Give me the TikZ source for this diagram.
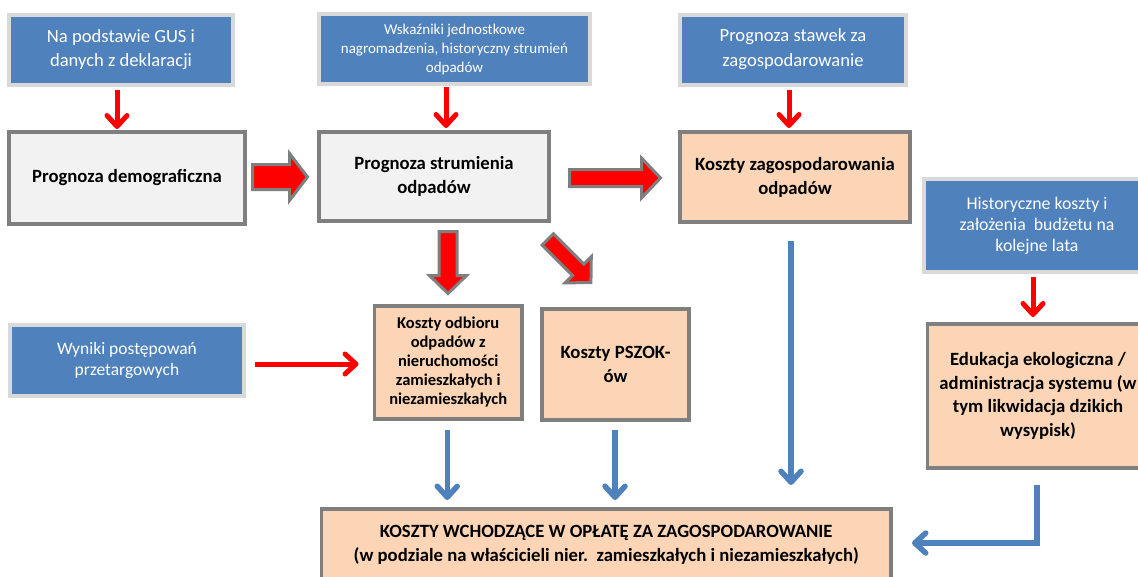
\documentclass[tikz,border=0pt]{standalone}
\usepackage{fontspec}
\setmainfont{Carlito}
\usetikzlibrary{arrows.meta,calc}
\definecolor{srcblue}{HTML}{4F81BD}
\definecolor{srcedge}{HTML}{D9D9D9}
\definecolor{boxedge}{HTML}{7F7F7F}
\definecolor{grayfill}{HTML}{F2F2F2}
\definecolor{orfill}{HTML}{FBD5B5}
\definecolor{arrred}{HTML}{FF0000}
\tikzset{
 srcbox/.style={fill=srcblue, draw=srcedge, line width=4pt, text=white, align=center, inner sep=0pt, outer sep=0pt},
 procbox/.style={fill=grayfill, draw=boxedge, line width=3.5pt, align=center, inner sep=0pt, outer sep=0pt, font=\bfseries\fontsize{18.7}{24}\selectfont},
 costbox/.style={procbox, fill=orfill},
 redarr/.style={draw=arrred, line width=5pt, -{Straight Barb[length=11pt,width=20pt,round]}},
 bluearr/.style={draw=srcblue, line width=5.5pt, -{Straight Barb[length=11pt,width=20pt,round]}},
 blockstyle/.style={fill=arrred, draw=boxedge, line width=3pt, line join=miter},
}
% #1 start, #2 angle, #3 length, #4 shaft half width, #5 head half width, #6 head length
\newcommand{\blockarr}[6]{%
 \begin{scope}[shift={#1},rotate=#2]
  \draw[blockstyle] (0,-#4) -- ({#3-#6},-#4) -- ({#3-#6},-#5) -- (#3,0) -- ({#3-#6},#5) -- ({#3-#6},#4) -- (0,#4) -- cycle;
 \end{scope}}
\begin{document}
\begin{tikzpicture}[x=1pt,y=-1pt]
\useasboundingbox (0,0) rectangle (1138,576);
\clip (0,0) rectangle (1138,576);

% source (blue) boxes
\node[srcbox, minimum width=224pt, minimum height=70pt, font=\fontsize{18.6}{24}\selectfont] (b1) at (121,49.5) {Na podstawie GUS i\\danych z deklaracji};
\node[srcbox, minimum width=271pt, minimum height=70pt, font=\fontsize{15}{19}\selectfont] (b2) at (454.5,49) {Wskaźniki jednostkowe\\nagromadzenia, historyczny strumień\\odpadów};
\node[srcbox, minimum width=226pt, minimum height=70pt, font=\fontsize{18.6}{25}\selectfont] (b3) at (793,49.5) {Prognoza stawek za\\zagospodarowanie};
\node[srcbox, minimum width=226pt, minimum height=93pt, font=\fontsize{17.8}{21}\selectfont] (b4) at (1037,225.5) {Historyczne koszty i\\założenia\ \ budżetu na\\kolejne lata};
\node[srcbox, minimum width=234pt, minimum height=71pt, font=\fontsize{17.5}{21}\selectfont] (wy) at (127,360) {Wyniki postępowań\\przetargowych};

% process boxes
\node[procbox, minimum width=236pt, minimum height=92pt] (pd) at (127,178) {Prognoza demograficzna};
\node[procbox, minimum width=230pt, minimum height=89pt] (ps) at (434,176.5) {Prognoza strumienia\\odpadów};
\node[costbox, minimum width=230pt, minimum height=90pt] (kz) at (795,177) {Koszty zagospodarowania\\odpadów};
\node[costbox, minimum width=147.5pt, minimum height=113pt, font=\bfseries\fontsize{16.5}{19}\selectfont] (ko) at (448.25,362.5) {Koszty odbioru\\odpadów z\\nieruchomości\\zamieszkałych i\\niezamieszkałych};
\node[costbox, minimum width=147pt, minimum height=111pt] (pk) at (615.5,364.5) {Koszty PSZOK-\\ów};
\node[costbox, minimum width=221pt, minimum height=144pt, font=\bfseries\fontsize{18.7}{23.5}\selectfont] (ed) at (1038,396) {Edukacja ekologiczna /\\administracja systemu (w\\tym likwidacja dzikich\\wysypisk)};
\node[costbox, minimum width=569.5pt, minimum height=72pt] (kw) at (606.25,545) {KOSZTY WCHODZĄCE W OPŁATĘ ZA ZAGOSPODAROWANIE\\(w podziale na właścicieli nier.\ \ zamieszkałych i niezamieszkałych)};

% red thin arrows
\draw[redarr] ($(b1.south)+(-4,5)$) -- ($(b1.south |- pd.north)+(-4,-3)$);
\draw[redarr] ($(b2.south)+(-8.5,3)$) -- ($(b2.south |- ps.north)+(-8.5,-4)$);
\draw[redarr] ($(b3.south)+(-4,5)$) -- ($(b3.south |- kz.north)+(-4,-4)$);
\draw[redarr] ($(b4.south)+(-4,5)$) -- ($(b4.south |- ed.north)+(-4,-7)$);
\draw[redarr] ($(wy.east)+(11,4)$) -- ($(wy.east -| ko.west)+(-16,4)$);

% block arrows
\blockarr{($(pd.east)+(7.5,-1)$)}{0}{55}{12.5}{23.5}{18}
\blockarr{($(ps.east)+(20.5,1.5)$)}{0}{91}{8.5}{20}{19}
\blockarr{($(ps.south)+(14,10.5)$)}{-90}{62}{9}{18.5}{18}
\blockarr{($(ps.south east)+(-1.2,18.4)$)}{-45}{61}{8}{18.5}{18}

% blue arrows
\draw[bluearr] ($(ko.south)+(-1,11)$) -- ($(ko.south |- kw.north)+(-1,-9)$);
\draw[bluearr] ($(pk.south)+(-0.5,10)$) -- ($(pk.south |- kw.north)+(-0.5,-9)$);
\draw[bluearr] ($(kz.south)+(-4,19)$) -- ($(kz.south |- kw.north)+(-4,-24)$);
\draw[bluearr] ($(ed.south)+(-1,17)$) |- ($(kw.east)+(21,-2)$);
\end{tikzpicture}
\end{document}
